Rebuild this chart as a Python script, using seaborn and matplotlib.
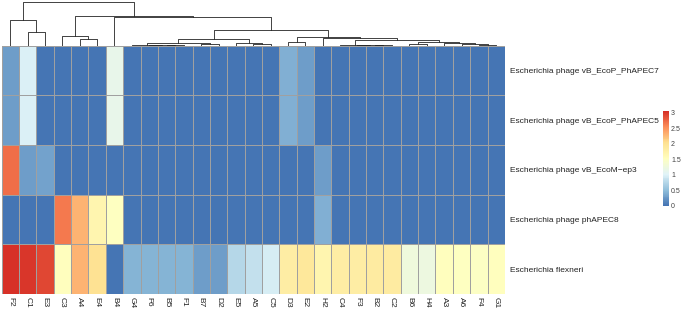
import numpy as np
import pandas as pd
import matplotlib
matplotlib.use('Agg')
import matplotlib.pyplot as plt
from matplotlib.colors import LinearSegmentedColormap
import seaborn as sns

sns.set_style("white")
plt.rcParams['font.family'] = ['Liberation Sans', 'DejaVu Sans']

samples = ["F2", "C1", "E3", "C3", "A4", "E4", "B4", "G4", "F6", "B5", "F1", "B7", "D2", "E5", "A5",
           "C5", "D3", "E2", "H2", "C4", "F3", "B2", "C2", "B6", "H4", "A3", "A6", "F4", "G1"]
species = ["Escherichia phage vB_EcoP_PhAPEC7", "Escherichia phage vB_EcoP_PhAPEC5",
           "Escherichia phage vB_EcoM\u2212ep3", "Escherichia phage phAPEC8", "Escherichia flexneri"]

phapec7 = [0.3, 1.0, 0, 0, 0, 0, 1.15, 0, 0, 0, 0, 0, 0, 0, 0,
           0, 0.42, 0.3, 0, 0, 0, 0, 0, 0, 0, 0, 0, 0, 0]
phapec5 = [0.3, 1.0, 0, 0, 0, 0, 1.15, 0, 0, 0, 0, 0, 0, 0, 0,
           0, 0.42, 0.3, 0, 0, 0, 0, 0, 0, 0, 0, 0, 0, 0]
ep3 = [2.7, 0.3, 0.32, 0, 0, 0, 0, 0, 0, 0, 0, 0, 0, 0, 0,
       0, 0, 0, 0.3, 0, 0, 0, 0, 0, 0, 0, 0, 0, 0]
phapec8 = [0, 0, 0, 2.65, 2.3, 1.7, 1.5, 0, 0, 0, 0, 0, 0, 0, 0,
           0, 0, 0, 0.42, 0, 0, 0, 0, 0, 0, 0, 0, 0, 0]
flexneri = [3.05, 3.0, 2.92, 1.55, 2.3, 2.0, 0.02, 0.45, 0.45, 0.45, 0.45, 0.3, 0.3, 0.75, 0.85,
            0.95, 1.8, 1.9, 1.7, 1.8, 1.82, 1.85, 1.85, 1.27, 1.25, 1.55, 1.5, 1.48, 1.55]

# column tree: (left, right, height), ids >= 29 are earlier merges
merges = [(9, 10, 0.4), (8, 29, 0.6), (7, 30, 1.0), (11, 12, 1.2), (31, 32, 2.4),
          (14, 15, 2.0), (13, 34, 2.8), (33, 35, 6.5), (16, 17, 3.4), (21, 22, 0.3),
          (20, 38, 0.5), (19, 39, 0.8), (27, 28, 0.9), (26, 41, 1.3), (25, 42, 2.3),
          (23, 24, 1.7), (44, 43, 3.4), (40, 45, 5.8), (18, 46, 7.2), (37, 47, 9.0),
          (36, 48, 15.8), (6, 49, 28.3), (4, 5, 7.0), (3, 51, 9.8), (52, 50, 30.0),
          (1, 2, 14.0), (0, 54, 25.8), (55, 53, 44.0)]

df = pd.DataFrame([phapec7, phapec5, ep3, phapec8, flexneri], index=species, columns=samples)

cmap = LinearSegmentedColormap.from_list(
    "ph", ["#4575B4", "#91BFDB", "#E0F3F8", "#FFFFBF", "#FEE090", "#FC8D59", "#D73027"], N=100)

W, H = 696, 309
fig = plt.figure(figsize=(W / 100, H / 100), dpi=100)
x0, x1 = 1.7, 504.9
ax = fig.add_axes([x0 / W, 1 - 294 / H, (x1 - x0) / W, (294 - 45.7) / H])
dax = fig.add_axes([x0 / W, 1 - 45.7 / H, (x1 - x0) / W, 44.7 / H])
cax = fig.add_axes([663 / W, 1 - 206 / H, 6 / W, 95 / H])

sns.heatmap(df, ax=ax, cmap=cmap, vmin=0, vmax=3.05, linewidths=0.5, linecolor="#a0a0a0",
            cbar_ax=cax, cbar_kws={"ticks": [0, 0.5, 1, 1.5, 2, 2.5, 3]})
ax.yaxis.tick_right()
ax.set_yticklabels(species, rotation=0, ha="left", fontsize=6.0, color="#222222")
ax.set_xticklabels(samples, rotation=270, fontsize=6.0, color="#222222", va="top")
ax.tick_params(axis="y", length=0, pad=3.5)
ax.tick_params(axis="x", length=0, pad=2)
ax.set_xlabel("")
ax.set_ylabel("")

cb = ax.collections[0].colorbar
cb.outline.set_visible(False)
cb.ax.tick_params(length=0, labelsize=5, colors="#444444", pad=1.5)
cb.ax.set_yticklabels(["0", "0.5", "1", "1.5", "2", "2.5", "3"])

# draw column dendrogram
n = len(samples)
pos = {i: i + 0.5 for i in range(n)}
hgt = {i: 0.0 for i in range(n)}
for k, (a, b, h) in enumerate(merges):
    dax.plot([pos[a], pos[a], pos[b], pos[b]], [hgt[a], h, h, hgt[b]], color="#222222", lw=0.6)
    pos[n + k] = (pos[a] + pos[b]) / 2
    hgt[n + k] = h
dax.set_xlim(0, n)
dax.set_ylim(0, 44.6)
dax.axis("off")

fig.savefig("out.png", dpi=100)
